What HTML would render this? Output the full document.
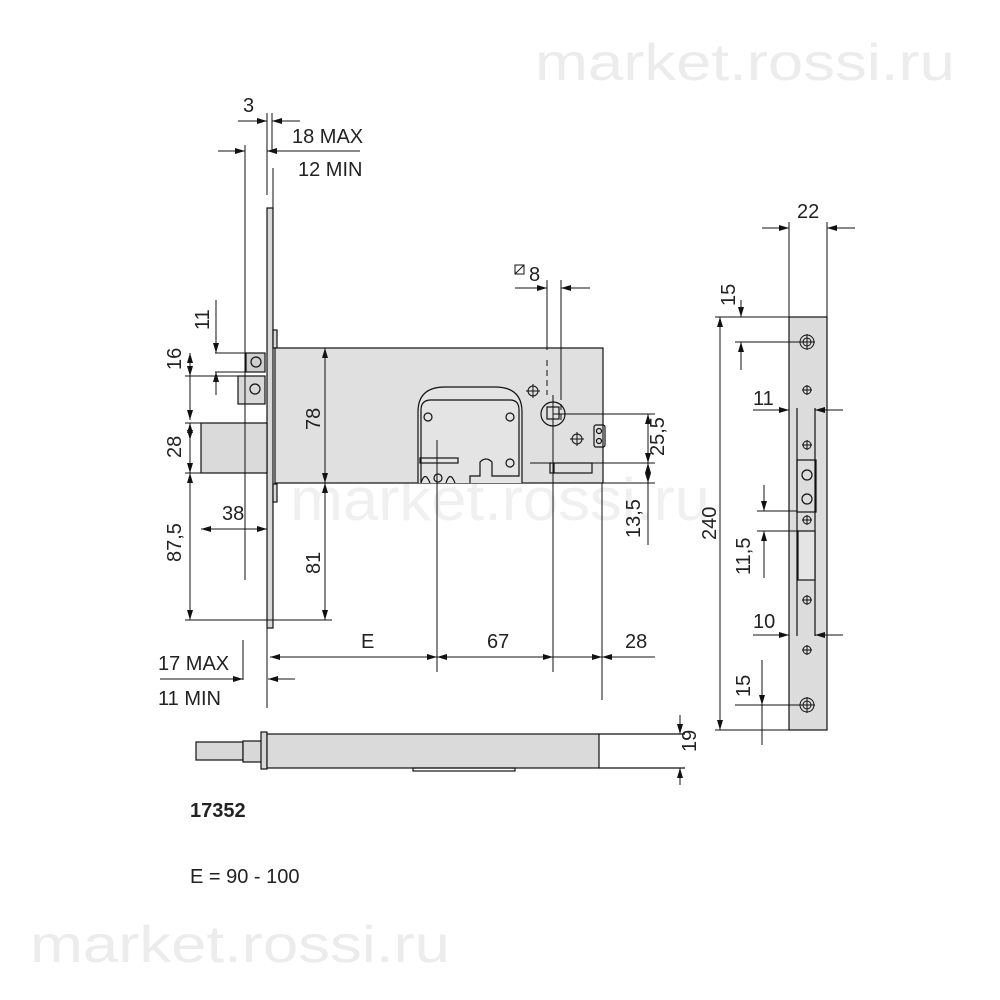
<!DOCTYPE html>
<html><head><meta charset="utf-8"><style>
html,body{margin:0;padding:0;background:#fff}
svg{display:block}
text{font-family:"Liberation Sans",sans-serif;fill:#222}
</style></head><body>
<svg width="1000" height="1000" viewBox="0 0 1000 1000" xmlns="http://www.w3.org/2000/svg">
<defs>
<marker id="a" viewBox="0 0 10 6" refX="10" refY="3" markerWidth="10" markerHeight="6" orient="auto-start-reverse" markerUnits="userSpaceOnUse"><path d="M0,0L10,3L0,6z" fill="#111"/></marker>
</defs>
<g>
<text x="535" y="80" style="fill:#ececec" font-size="52" textLength="420" lengthAdjust="spacingAndGlyphs">market.rossi.ru</text>
<text x="30" y="962" style="fill:#ececec" font-size="52" textLength="420" lengthAdjust="spacingAndGlyphs">market.rossi.ru</text>
<text x="290" y="520" style="fill:#f0f0f0" font-size="60" textLength="420" lengthAdjust="spacingAndGlyphs">market.rossi.ru</text>
</g>
<g stroke="#111" stroke-width="1.2" fill="none">
<rect x="267" y="208" width="6" height="420" fill="#d8d8d8"/>
<rect x="273" y="330" width="4" height="18" fill="#d8d8d8"/>
<rect x="273" y="484" width="4" height="18" fill="#d8d8d8"/>
<rect x="275" y="348" width="328" height="135" fill="#e0e0e0"/>
<rect x="246" y="353" width="19" height="19" fill="#d0d0d0"/>
<circle cx="256" cy="362" r="5"/>
<rect x="238" y="376" width="27" height="28" fill="#d8d8d8"/>
<circle cx="255" cy="389" r="5"/>
<rect x="201" y="423" width="66" height="50" fill="#dadada"/>
<path d="M418,483 V412 Q418,387 445,387 H495 Q522,387 522,412 V483" fill="#e4e4e4"/>
<path d="M421,483 V410 Q421,400 431,400 H510 Q519,400 519,410 V476 H492 V462 Q486,456 480,462 V476 H470 V483" />
<circle cx="428" cy="417" r="4"/><circle cx="510" cy="417" r="4"/><circle cx="510" cy="463" r="4"/>
<rect x="420" y="458" width="38" height="5"/>
<circle cx="438" cy="478" r="4"/><path d="M421,483 Q425,470 430,483 M446,483 Q450,470 455,483"/>
<circle cx="553" cy="414" r="12"/>
<rect x="547" y="407" width="12" height="12"/>
<g stroke-width="1"><circle cx="533" cy="391" r="5"/><path d="M526,391h14M533,384v14"/>
<circle cx="577" cy="439" r="5"/><path d="M570,439h14M577,432v14"/></g>
<rect x="594" y="425" width="11" height="22" rx="2"/>
<circle cx="599" cy="431" r="2.5"/><circle cx="599" cy="441" r="2.5"/>
<rect x="550" y="463" width="42" height="10"/><line x1="554" y1="463" x2="554" y2="473"/>
<rect x="196" y="742" width="47" height="18" fill="#d8d8d8"/>
<rect x="243" y="741" width="19" height="21" fill="#d8d8d8"/>
<rect x="261" y="732" width="6" height="37" fill="#d8d8d8"/>
<rect x="267" y="734" width="332" height="34" fill="#dadada"/>
<path d="M599,734H685M599,768H685"/>
<rect x="413" y="768" width="102" height="3"/>
<rect x="789" y="317" width="38" height="413" fill="#dcdcdc"/>
<path d="M797,408V636M815,408V636"/>
<rect x="797" y="460" width="19" height="52"/>
<circle cx="807" cy="475" r="5"/><circle cx="807" cy="499" r="5"/>
<rect x="798" y="531" width="17" height="49" fill="#e4e4e4"/>
<g stroke-width="1">
<circle cx="807" cy="342" r="7"/><circle cx="807" cy="342" r="4"/><path d="M799,342h16M807,334v16"/>
<circle cx="807" cy="705" r="7"/><circle cx="807" cy="705" r="4"/><path d="M799,705h16M807,697v16"/>
<circle cx="807" cy="390" r="4"/><path d="M802,390h10M807,385v10"/>
<circle cx="807" cy="445" r="4"/><path d="M802,445h10M807,440v10"/>
<circle cx="807" cy="520" r="4"/><path d="M802,520h10M807,515v10"/>
<circle cx="807" cy="600" r="4"/><path d="M802,600h10M807,595v10"/>
<circle cx="807" cy="650" r="4"/><path d="M802,650h10M807,645v10"/>
</g>
</g>
<g stroke="#111" stroke-width="1" fill="none">
<path d="M267,113V195M272,113V150M273,168V208"/>
<path d="M238,121H267" marker-end="url(#a)"/><path d="M300,121H272" marker-end="url(#a)"/>
<path d="M218,151H245" marker-end="url(#a)"/><path d="M360,151H267" marker-end="url(#a)"/>
<path d="M245,145V580"/>
<path d="M243,680V640"/>
<path d="M160,679H243" marker-end="url(#a)"/><path d="M295,679H268" marker-end="url(#a)"/>
<path d="M267,628V708"/>
<path d="M215,353H245M215,372H245M185,376H238M185,423H201M185,473H201M185,620H332"/>
<path d="M216,300V353" marker-end="url(#a)"/><path d="M216,395V372" marker-end="url(#a)"/>
<path d="M190,376V353" marker-start="url(#a)" marker-end="url(#a)"/>
<path d="M190,372V420" marker-end="url(#a)"/><path d="M190,440V423" marker-start="url(#a)"/>
<path d="M190,423V473" marker-start="url(#a)" marker-end="url(#a)"/>
<path d="M190,473V620" marker-start="url(#a)" marker-end="url(#a)"/>
<path d="M201,529H267" marker-start="url(#a)" marker-end="url(#a)"/>
<path d="M325,348V483" marker-start="url(#a)" marker-end="url(#a)"/>
<path d="M325,483V620" marker-start="url(#a)" marker-end="url(#a)"/>
<path d="M437,440V672M553,395V672M602,483V700M547,280V350M561,280V400"/>
<path d="M547,360V395M561,420V400" stroke-dasharray="6,4"/>
<path d="M270,657H437" marker-start="url(#a)" marker-end="url(#a)"/>
<path d="M437,657H553" marker-start="url(#a)" marker-end="url(#a)"/>
<path d="M553,657H602" marker-end="url(#a)"/><path d="M655,657H602" marker-end="url(#a)"/>
<path d="M515,288H547" marker-end="url(#a)"/><path d="M590,288H561" marker-end="url(#a)"/>
<path d="M553,414H655M530,463H655M600,483H655"/>
<path d="M648,414V463" marker-start="url(#a)" marker-end="url(#a)"/>
<path d="M648,463V483" marker-start="url(#a)" marker-end="url(#a)"/>
<path d="M648,483V545"/>
<path d="M680,715V734" marker-end="url(#a)"/><path d="M680,785V768" marker-end="url(#a)"/>
<path d="M789,222V317M827,222V317"/>
<path d="M762,228H789" marker-end="url(#a)"/><path d="M855,228H827" marker-end="url(#a)"/>
<path d="M715,317H789M715,730H789M735,342H807M735,705H807"/>
<path d="M720,317V730" marker-start="url(#a)" marker-end="url(#a)"/>
<path d="M741,300V317" marker-end="url(#a)"/><path d="M741,370V342" marker-end="url(#a)"/>
<path d="M753,410H789" marker-end="url(#a)"/><path d="M843,410H815" marker-end="url(#a)"/>
<path d="M753,635H789" marker-end="url(#a)"/><path d="M843,635H815" marker-end="url(#a)"/>
<path d="M757,511H797M757,531H797"/>
<path d="M764,485V511" marker-end="url(#a)"/><path d="M764,578V531" marker-end="url(#a)"/>
<path d="M762,660V705" marker-end="url(#a)"/><path d="M762,745V705"/>
</g>
<rect x="515" y="265" width="9" height="9" fill="none" stroke="#111"/>
<path d="M515,274L524,265" stroke="#111"/>
<g font-size="20">
<text x="243" y="112">3</text>
<text x="292" y="143">18 MAX</text>
<text x="298" y="176">12 MIN</text>
<text x="529" y="281">8</text>
<text x="361" y="648">E</text>
<text x="487" y="648">67</text>
<text x="625" y="648">28</text>
<text x="158" y="670">17 MAX</text>
<text x="158" y="705">11 MIN</text>
<text x="222" y="520">38</text>
<text x="797" y="218">22</text>
<text x="753" y="405">11</text>
<text x="753" y="628">10</text>
<text transform="translate(209,330) rotate(-90)">11</text>
<text transform="translate(181,370) rotate(-90)">16</text>
<text transform="translate(181,458) rotate(-90)">28</text>
<text transform="translate(181,562) rotate(-90)">87,5</text>
<text transform="translate(320,430) rotate(-90)">78</text>
<text transform="translate(320,574) rotate(-90)">81</text>
<text transform="translate(664,456) rotate(-90)">25,5</text>
<text transform="translate(640,538) rotate(-90)">13,5</text>
<text transform="translate(696,752) rotate(-90)">19</text>
<text transform="translate(735,306) rotate(-90)">15</text>
<text transform="translate(716,540) rotate(-90)">240</text>
<text transform="translate(750,575) rotate(-90)">11,5</text>
<text transform="translate(750,697) rotate(-90)">15</text>
<text x="190" y="817" font-weight="bold">17352</text>
<text x="190" y="883">E =  90 - 100</text>
</g>
</svg>
</body></html>
